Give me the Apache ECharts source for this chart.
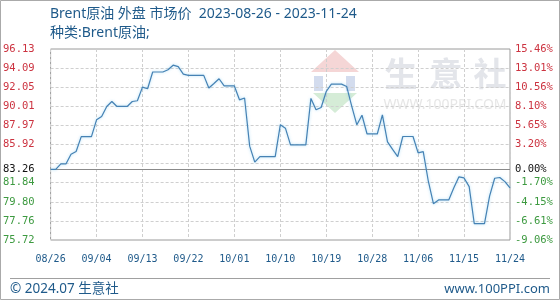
<!DOCTYPE html>
<html><head><meta charset="utf-8">
<script src="https://cdn.jsdelivr.net/npm/echarts@6/dist/echarts.min.js"></script>
<style>html,body{margin:0;padding:0;background:#fff}#c{width:560px;height:300px}</style>
</head><body><div id="c"></div>
<script>
const titleText = 'Brent原油 外盘 市场价  2023-08-26 - 2023-11-24';
const subTitleText = '种类:Brent原油;';
const footerLeft = '© 2024.07 生意社';
const footerRight = 'www.100PPI.com';

const dates = [
'08/26','08/27','08/28','08/29','08/30','08/31',
'09/01','09/02','09/03','09/04','09/05','09/06','09/07','09/08','09/09','09/10',
'09/11','09/12','09/13','09/14','09/15','09/16','09/17','09/18','09/19','09/20',
'09/21','09/22','09/23','09/24','09/25','09/26','09/27','09/28','09/29','09/30',
'10/01','10/02','10/03','10/04','10/05','10/06','10/07','10/08','10/09','10/10',
'10/11','10/12','10/13','10/14','10/15','10/16','10/17','10/18','10/19','10/20',
'10/21','10/22','10/23','10/24','10/25','10/26','10/27','10/28','10/29','10/30','10/31',
'11/01','11/02','11/03','11/04','11/05','11/06','11/07','11/08','11/09','11/10',
'11/11','11/12','11/13','11/14','11/15','11/16','11/17','11/18','11/19','11/20',
'11/21','11/22','11/23','11/24'
];

const prices = [
83.26,83.26,83.85,83.85,84.89,85.17,
86.77,86.77,86.77,88.56,88.92,89.99,90.52,89.99,89.99,89.99,
90.52,90.60,92.06,91.88,93.67,93.67,93.67,93.91,94.40,94.25,
93.45,93.31,93.31,93.31,93.31,91.96,92.45,92.95,92.18,92.18,
92.18,90.70,90.90,85.75,84.04,84.62,84.62,84.62,84.62,88.03,
87.67,85.89,85.89,85.89,85.89,90.85,89.63,89.88,91.59,92.38,
92.38,92.38,92.13,90.00,88.03,89.05,87.05,87.05,87.05,89.10,86.20,
85.40,84.64,86.78,86.78,86.78,85.03,85.17,82.00,79.60,80.00,
80.00,80.00,81.30,82.47,82.35,81.42,77.47,77.47,77.47,80.40,
82.32,82.40,81.96,81.30
];

const baseValue = 83.26;
const yMin = 75.72;
const yMax = 96.13;
const leftTickValues = [75.72, 77.76, 79.80, 81.84, 83.26, 85.92, 87.97, 90.01, 92.05, 94.09, 96.13];
const rightTickLabels = ['-9.06%', '-6.61%', '-4.15%', '-1.70%', '0.00%', '3.20%', '5.65%', '8.10%', '10.56%', '13.01%', '15.46%'];
const gridValues = [77.76, 79.80, 81.84, 83.88, 85.92, 87.97, 90.01, 92.05, 94.09];

const RED = '#cc3340', GREEN = '#3d9a40', BLACK = '#111111', BLUE = '#1f5a8a';
const MONO = '"DejaVu Sans Mono", "Liberation Mono", monospace';
const SANS = '"Noto Sans", "Noto Sans CJK SC", sans-serif';

function tickColor(v) {
  v = Number(v);
  if (Math.abs(v - baseValue) < 0.005) return BLACK;
  return v > baseValue ? RED : GREEN;
}
function rightLabel(v) {
  v = Number(v);
  for (let i = 0; i < leftTickValues.length; i++) {
    if (Math.abs(leftTickValues[i] - v) < 0.005) return rightTickLabels[i];
  }
  return '';
}

const chart = echarts.init(document.getElementById('c'), null, {renderer: 'canvas', width: 560, height: 300});

const yAxisCommon = {
  type: 'value', min: yMin, max: yMax,
  axisLine: {show: false}, axisTick: {show: false}, splitLine: {show: false}
};

chart.setOption({
  animation: false,
  grid: {left: 50, right: 50, top: 49, bottom: 60, show: true, borderColor: '#9a9a9a', borderWidth: 1, backgroundColor: 'transparent', containLabel: false},
  xAxis: {
    type: 'category', data: dates, boundaryGap: false,
    axisLine: {show: false}, axisTick: {show: false},
    axisLabel: {interval: 8, color: BLUE, fontFamily: MONO, fontSize: 10, margin: 14},
    splitLine: {show: true, interval: 8, lineStyle: {type: [3, 2], color: '#cfcfcf', width: 1}}
  },
  yAxis: [
    Object.assign({}, yAxisCommon, {
      position: 'left',
      axisLabel: {customValues: leftTickValues, formatter: v => Number(v).toFixed(2), color: tickColor, fontFamily: MONO, fontSize: 10.5, margin: 16}
    }),
    Object.assign({}, yAxisCommon, {
      position: 'right',
      axisLabel: {customValues: leftTickValues, formatter: v => rightLabel(v), color: tickColor, fontFamily: MONO, fontSize: 10.5, margin: 5}
    })
  ],
  series: [{
    type: 'line', data: prices, yAxisIndex: 0, symbol: 'none', z: 5,
    lineStyle: {color: '#4682b4', width: 1.2, shadowColor: 'rgba(110,195,240,0.6)', shadowBlur: 3},
    markLine: {
      silent: true, symbol: ['none', 'none'], animation: false,
      label: {show: false},
      emphasis: {disabled: true},
      data: gridValues.map(v => ({yAxis: v, lineStyle: {type: [3, 2], color: '#cfcfcf', width: 1}}))
        .concat([{yAxis: baseValue, lineStyle: {type: 'solid', color: '#8a8a8a', width: 1}}])
    }
  }],
  graphic: [
    {type: 'rect', z: -10, silent: true, shape: {x: 0.5, y: 0.5, width: 559, height: 299}, style: {fill: 'none', stroke: '#aaaaaa', lineWidth: 1}},
    // watermark logo
    {type: 'polygon', z: -5, silent: true, shape: {points: [[311, 72], [335, 50], [359, 72]]}, style: {fill: '#f5d6d6'}},
    {type: 'rect', z: -5, silent: true, shape: {x: 314, y: 76, width: 9, height: 15}, style: {fill: '#d3dcee'}},
    {type: 'rect', z: -5, silent: true, shape: {x: 346, y: 76, width: 9, height: 15}, style: {fill: '#d3dcee'}},
    {type: 'polygon', z: -5, silent: true, shape: {points: [[313, 93], [357, 93], [335, 113]]}, style: {fill: '#d5ecd7'}},
    {type: 'text', z: -5, silent: true, style: {text: '生', x: 401, y: 73, align: 'center', verticalAlign: 'middle', fontSize: 33, fontWeight: 'bold', fontFamily: '"Noto Sans CJK SC"', fill: '#e3e5ea'}},
    {type: 'text', z: -5, silent: true, style: {text: '意', x: 446, y: 73, align: 'center', verticalAlign: 'middle', fontSize: 33, fontWeight: 'bold', fontFamily: '"Noto Sans CJK SC"', fill: '#e3e5ea'}},
    {type: 'text', z: -5, silent: true, style: {text: '社', x: 490, y: 73, align: 'center', verticalAlign: 'middle', fontSize: 33, fontWeight: 'bold', fontFamily: '"Noto Sans CJK SC"', fill: '#e3e5ea'}},
    {type: 'text', z: -5, silent: true, style: {text: 'WWW.100PPI.COM', x: 445, y: 105, align: 'center', verticalAlign: 'middle', fontSize: 14, fontFamily: SANS, fill: '#e6e6e6'}},
    // titles
    {type: 'text', silent: true, style: {text: titleText, x: 50, y: 14, verticalAlign: 'middle', fontSize: 14, fontFamily: SANS, fill: BLUE}},
    {type: 'text', silent: true, style: {text: subTitleText, x: 50, y: 33, verticalAlign: 'middle', fontSize: 14, fontFamily: SANS, fill: BLUE}},
    // footer
    {type: 'line', silent: true, shape: {x1: 10, y1: 278.5, x2: 550, y2: 278.5}, style: {stroke: '#a0a0a0', lineWidth: 1}},
    {type: 'text', silent: true, style: {text: footerLeft, x: 10, y: 289, verticalAlign: 'middle', fontSize: 13.5, fontFamily: SANS, fill: BLUE}},
    {type: 'text', silent: true, style: {text: footerRight, x: 550, y: 289, align: 'right', verticalAlign: 'middle', fontSize: 13, fontFamily: SANS, fill: BLUE}}
  ]
});
</script>
</body></html>
